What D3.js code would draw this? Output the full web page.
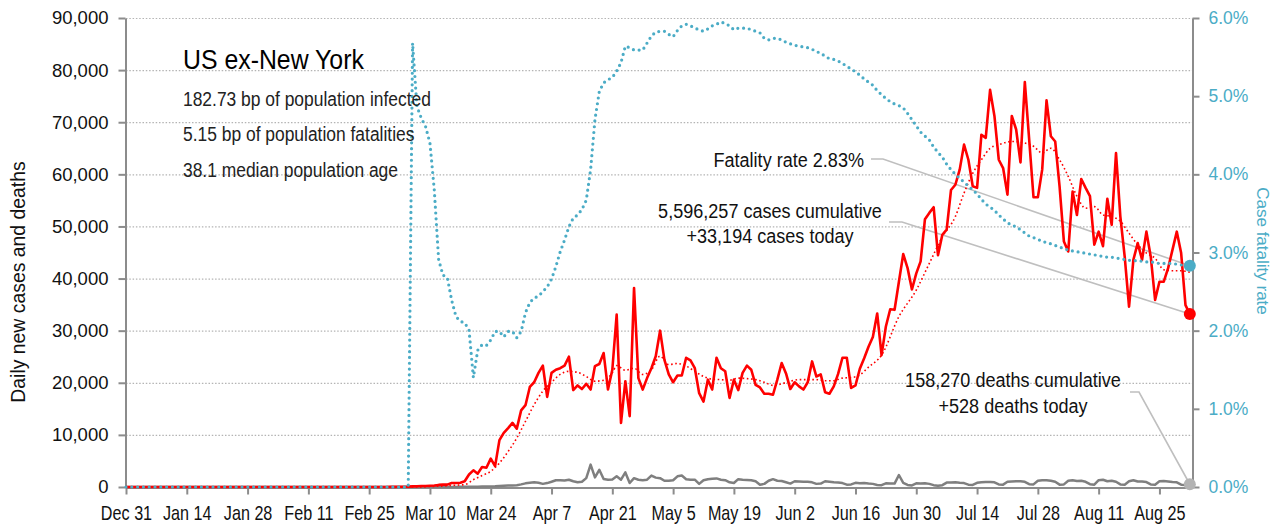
<!DOCTYPE html>
<html>
<head>
<meta charset="utf-8">
<script src="https://cdn.jsdelivr.net/npm/d3@7"></script>
<style>
  body { margin: 0; background: #fff; }
  svg { display: block; font-family: "Liberation Sans", Arial, sans-serif; }
</style>
</head>
<body>
<svg id="chart" width="1283" height="529"></svg>
<script>
// one value per day, starting Dec 31 2019
var startDate = "2019-12-31"

var dailyCases = [
  // Dec 31 + January
  0, 0,0,0,0,0,0,0,0,0,0, 0,0,0,0,0,0,0,0,0,0, 0,0,0,0,0,0,0,0,0,0,0,
  // February
  0,0,0,0,0,0,0,0,0,0, 0,0,0,0,0,0,0,0,0,0, 0,0,0,0,0,0,0,0,10,
  // March
  20,30,40,60,80,120,150,180,200,250, 300,400,450,450,770,770,830,1100,2400,3200,
  2560,3840,3700,5440,4000,9000,10400,11300,12300,11200,14700,
  // April
  15700,19200,20100,21900,23300,17300,21900,22500,22800,23300,
  25000,18600,19500,18800,19800,18700,23200,23600,25700,18700,
  22500,33100,12300,20300,13600,38200,20900,18700,20900,22800,
  // May
  25100,30000,24400,21600,20100,21400,21400,24800,24300,22800,
  18000,16400,20600,18700,24800,22800,22200,17100,20600,18600,
  21900,23300,22500,19600,19100,17900,17900,17700,20600,23800,21800,
  // June
  18800,20100,19300,18700,20100,24100,21200,21600,18200,17900,
  19300,21700,24800,24800,19000,19500,22700,24700,26900,28800,
  33300,25300,30800,34100,34000,39400,44700,42000,37900,41000,
  // July
  43300,51400,52600,53700,44500,48400,49400,57000,58000,60900,
  65700,62800,57700,57400,67600,67000,76200,71200,62800,61200,
  56100,71200,68600,62300,77700,66700,55600,55600,60900,74200,67300,
  // August
  66300,57700,47100,45200,56700,52200,59100,57400,55800,46500,
  49000,46200,55300,50300,64100,51900,44200,34600,43600,46800,
  43600,49000,44200,35900,39400,39400,42000,45500,49000,44900,34900,
  // Sep 1
  33194
]

var dailyDeaths = [
  0, 0,0,0,0,0,0,0,0,0,0, 0,0,0,0,0,0,0,0,0,0, 0,0,0,0,0,0,0,0,0,0,0,
  0,0,0,0,0,0,0,0,0,0, 0,0,0,0,0,0,0,0,0,0, 0,0,0,0,0,0,0,0,0,
  0,0,0,0,0,0,0,0,0,0, 0,0,0,0,10,20,25,30,40,50,
  60,80,100,120,150,200,250,300,300,350,500,
  700,800,900,800,600,750,1000,1300,1300,1250,
  1400,1100,900,1000,1700,4300,1850,3300,1540,1400,
  1450,2050,1400,2800,770,1700,1400,1300,1400,2200,
  1800,1700,1200,1200,1300,2050,2200,1500,1400,1400,
  600,1300,1500,1600,1650,1400,1300,900,770,1500,
  1400,1350,1300,1100,450,600,1200,1500,1200,1150,900,
  650,1100,1050,1000,1000,900,600,650,1100,1000,
  900,850,750,450,500,800,700,750,650,600,
  400,350,700,650,650,2300,800,400,300,700,
  650,700,600,350,250,350,850,850,900,800,
  750,450,400,800,900,950,950,900,500,450,
  1000,1050,1100,1100,1000,550,500,1200,1300,1300,1200,
  1000,450,500,1200,1300,1150,1200,1000,550,450,
  1300,1400,1100,1200,1000,500,450,1100,1300,1050,
  1050,950,500,450,1100,1150,1050,950,900,450,400,
  528
]

// case fatality rate, percent
var fatalityRate = [
  0, 0,0,0,0,0,0,0,0,0,0, 0,0,0,0,0,0,0,0,0,0, 0,0,0,0,0,0,0,0,0,0,0,
  0,0,0,0,0,0,0,0,0,0, 0,0,0,0,0,0,0,0,0,0, 0,0,0,0,0,0,0,0,0,
  0,0,0,0,0,5.68,4.87,4.72,4.61,4.40, 3.80,2.91,2.71,2.68,2.39,2.18,2.12,2.10,2.01,1.40,
  1.75,1.82,1.81,1.88,1.99,1.99,1.92,1.99,1.99,1.91,1.99,
  2.23,2.36,2.42,2.44,2.50,2.56,2.66,2.82,3.01,3.16,
  3.33,3.44,3.48,3.55,3.67,4.06,4.70,5.06,5.17,5.21,
  5.24,5.32,5.43,5.64,5.62,5.59,5.59,5.59,5.68,5.77,
  5.82,5.83,5.83,5.79,5.76,5.84,5.90,5.92,5.90,5.87,
  5.85,5.83,5.86,5.90,5.92,5.95,5.93,5.90,5.85,5.87,
  5.87,5.87,5.85,5.83,5.81,5.74,5.72,5.74,5.74,5.72,5.69,
  5.67,5.65,5.64,5.63,5.62,5.60,5.57,5.55,5.51,5.48,
  5.47,5.45,5.42,5.38,5.35,5.31,5.27,5.22,5.18,5.14,
  5.07,5.02,4.97,4.93,4.90,4.88,4.85,4.78,4.70,4.62,
  4.54,4.49,4.44,4.35,4.28,4.22,4.13,4.06,4.00,3.95,
  3.90,3.85,3.80,3.75,3.68,3.62,3.58,3.54,3.48,3.43,
  3.38,3.35,3.33,3.29,3.25,3.21,3.19,3.17,3.14,3.13,3.11,
  3.09,3.07,3.05,3.03,3.02,3.01,3.00,2.99,2.98,2.97,
  2.96,2.95,2.94,2.94,2.93,2.92,2.91,2.90,2.90,2.89,
  2.89,2.88,2.88,2.87,2.86,2.86,2.86,2.86,2.85,2.84,2.84,
  2.83
]

// smoothed cases trend
var trendDates = [
  "2019-12-31","2020-03-08","2020-03-10","2020-03-12","2020-03-14","2020-03-16","2020-03-18",
  "2020-03-20","2020-03-22","2020-03-24","2020-03-26","2020-03-28","2020-03-30","2020-04-01",
  "2020-04-03","2020-04-05","2020-04-07","2020-04-09","2020-04-11","2020-04-13","2020-04-15",
  "2020-04-17","2020-04-19","2020-04-21","2020-04-22","2020-04-24","2020-04-26","2020-04-28",
  "2020-04-30","2020-05-02","2020-05-04","2020-05-06","2020-05-08","2020-05-10","2020-05-12",
  "2020-05-14","2020-05-16","2020-05-18","2020-05-20","2020-05-22","2020-05-24","2020-05-26",
  "2020-05-28","2020-05-30","2020-06-01","2020-06-03","2020-06-05","2020-06-07","2020-06-09",
  "2020-06-11","2020-06-13","2020-06-15","2020-06-17","2020-06-19","2020-06-22","2020-06-26",
  "2020-06-30","2020-07-03","2020-07-06","2020-07-09","2020-07-11","2020-07-13","2020-07-15",
  "2020-07-17","2020-07-19","2020-07-22","2020-07-25","2020-07-27","2020-07-29","2020-07-31",
  "2020-08-02","2020-08-04","2020-08-06","2020-08-08","2020-08-10","2020-08-12","2020-08-14",
  "2020-08-16","2020-08-18","2020-08-20","2020-08-22","2020-08-24","2020-08-26","2020-08-28",
  "2020-08-30","2020-09-01"
]
var trendValues = [
  0, 0, 100, 150, 250, 350, 450,
  1400, 2200, 3000, 4600, 6800, 9400, 12600,
  15800, 18400, 20100, 21600, 22200, 22000, 21200,
  20300, 20500, 21900, 23300, 22400, 22800, 21600,
  22500, 25100, 23500, 23700, 23200, 22200, 21200,
  20700, 20600, 20500, 20900, 20800, 20600, 20100,
  19500, 19800, 20300, 20600, 20600, 20600, 20400,
  20400, 20900, 21000, 21500, 23000, 25300, 32700,
  37800, 42900, 48000, 51900, 56400, 60200, 62800,
  65000, 65700, 66300, 66000, 65400, 64100, 65000,
  62800, 59600, 55800, 53500, 53800, 52200, 51900,
  51000, 48700, 46500, 44900, 43900, 41700, 41500,
  41500, 41200
]

var xTickDates = ["2019-12-31","2020-01-14","2020-01-28","2020-02-11","2020-02-25","2020-03-10",
  "2020-03-24","2020-04-07","2020-04-21","2020-05-05","2020-05-19","2020-06-02","2020-06-16",
  "2020-06-30","2020-07-14","2020-07-28","2020-08-11","2020-08-25"]
var leftTicks = [0, 10000, 20000, 30000, 40000, 50000, 60000, 70000, 80000, 90000]
var rightTicks = [0, 1, 2, 3, 4, 5, 6]

var title = "US ex-New York"
var infoLines = ["182.73 bp of population infected", "5.15 bp of population fatalities", "38.1 median population age"]
var cfrLabel = "Fatality rate 2.83%"
var casesLabel = ["5,596,257 cases cumulative", "+33,194 cases today"]
var deathsLabel = ["158,270 deaths cumulative", "+528 deaths today"]

var red = "#ff0000", teal = "#4bacc6", gray = "#7f7f7f", axisGray = "#8c8c8c", leaderGray = "#bfbfbf"

var parse = d3.utcParse("%Y-%m-%d")
var day0 = parse(startDate)
function byDay(vals){ return vals.map(function(v, i){ return {date: d3.utcDay.offset(day0, i), value: v} }) }

var cases = byDay(dailyCases)
var deaths = byDay(dailyDeaths)
var cfr = byDay(fatalityRate)
var trend = trendDates.map(function(d, i){ return {date: parse(d), value: trendValues[i]} })

var svg = d3.select('#chart')
var plotLeft = 126, plotRight = 1192, plotTop = 18, plotBottom = 487

var x = d3.scaleUtc()
  .domain([day0, d3.utcHour.offset(cases[cases.length - 1].date, 12)])
  .range([plotLeft, plotRight])
var y = d3.scaleLinear().domain([0, 90000]).range([plotBottom, plotTop])
var yR = d3.scaleLinear().domain([0, 6]).range([plotBottom, plotTop])

// condensed look: squeeze text horizontally
function narrowLabel(parent, px, py, txt, size, squeeze, anchor, color){
  return parent.append('text')
    .attr('transform', 'translate(' + px + ',' + py + ') scale(' + squeeze + ',1)')
    .attr('text-anchor', anchor || 'start')
    .style('font-size', size + 'px')
    .attr('fill', color || '#111')
    .text(txt)
}

// gridlines
svg.append('g').selectAll('line')
  .data(leftTicks.filter(function(d){ return d > 0 }))
  .join('line')
  .attr('x1', plotLeft).attr('x2', plotRight)
  .attr('y1', function(d){ return y(d) + 0.5 }).attr('y2', function(d){ return y(d) + 0.5 })
  .attr('stroke', '#b4b4b4').attr('stroke-width', 1.2).attr('stroke-dasharray', '1.5,1.8')

// axes
function styleAxis(g, color, size){
  g.select('.domain').attr('stroke', axisGray).attr('stroke-width', 2)
  g.selectAll('.tick line').attr('stroke', axisGray).attr('stroke-width', 2)
  g.selectAll('.tick text').attr('fill', color).style('font-size', size + 'px')
    .style('font-family', '"Liberation Sans", Arial, sans-serif')
}

svg.append('g')
  .attr('transform', 'translate(' + (plotLeft - 0.5) + ',0)')
  .call(d3.axisLeft(y).tickValues(leftTicks).tickFormat(d3.format(',')).tickSize(7).tickSizeOuter(0).tickPadding(10))
  .call(styleAxis, '#111', 18.5)

svg.append('g')
  .attr('transform', 'translate(' + (plotRight + 0.5) + ',0)')
  .call(d3.axisRight(yR).tickValues(rightTicks).tickFormat(function(d){ return d.toFixed(1) + '%' }).tickSize(7).tickSizeOuter(0).tickPadding(9))
  .call(styleAxis, teal, 17.5)

var xAxisG = svg.append('g')
  .attr('transform', 'translate(0,' + (plotBottom + 0.5) + ')')
  .call(d3.axisBottom(x).tickValues(xTickDates.map(parse)).tickFormat(d3.utcFormat('%b %-d')).tickSize(7).tickSizeOuter(0).tickPadding(12))
  .call(styleAxis, '#111', 19.5)
xAxisG.selectAll('.tick text').attr('transform', 'scale(0.83,1)')

// axis titles
svg.append('text')
  .attr('transform', 'translate(25,282) rotate(-90)')
  .attr('text-anchor', 'middle').style('font-size', '19.4px').attr('fill', '#111')
  .text('Daily new cases and deaths')

svg.append('text')
  .attr('transform', 'translate(1257,251) rotate(90)')
  .attr('text-anchor', 'middle').style('font-size', '17px').attr('fill', teal)
  .text('Case fatality rate')

// leader lines (under the data)
var lastCase = cases[cases.length - 1], lastDeath = deaths[deaths.length - 1], lastCfr = cfr[cfr.length - 1]
var leader = d3.line()
function drawLeader(pts){
  svg.append('path').attr('d', leader(pts)).attr('fill', 'none')
    .attr('stroke', leaderGray).attr('stroke-width', 1.6)
}
drawLeader([[871, 159], [883, 159], [x(lastCfr.date), yR(lastCfr.value)]])
drawLeader([[889, 222], [902, 222], [x(lastCase.date), y(lastCase.value)]])
drawLeader([[1130, 392], [1139, 392], [x(lastDeath.date), y(lastDeath.value)]])

// series
var lineL = d3.line().x(function(d){ return x(d.date) }).y(function(d){ return y(d.value) })
var trendLine = d3.line().x(function(d){ return x(d.date) }).y(function(d){ return y(d.value) }).curve(d3.curveMonotoneX)
var lineR = d3.line().x(function(d){ return x(d.date) }).y(function(d){ return yR(d.value) })

svg.append('path').datum(deaths).attr('d', lineL).attr('fill', 'none')
  .attr('stroke', gray).attr('stroke-width', 2.5).attr('stroke-linejoin', 'round')

svg.append('path').datum(trend).attr('d', trendLine).attr('fill', 'none')
  .attr('stroke', red).attr('stroke-width', 1.6).attr('stroke-dasharray', '1.6,2.6')

svg.append('path').datum(cases).attr('d', lineL).attr('fill', 'none')
  .attr('stroke', red).attr('stroke-width', 2.6).attr('stroke-linejoin', 'round')

svg.append('path').datum(cfr).attr('d', lineR).attr('fill', 'none')
  .attr('stroke', teal).attr('stroke-width', 3.2).attr('stroke-linecap', 'round')
  .attr('stroke-dasharray', '0,5.8')

// end markers
svg.append('circle').attr('cx', x(lastDeath.date)).attr('cy', y(lastDeath.value)).attr('r', 6).attr('fill', '#b3b3b3')
svg.append('circle').attr('cx', x(lastCase.date)).attr('cy', y(lastCase.value)).attr('r', 6).attr('fill', red)
svg.append('circle').attr('cx', x(lastCfr.date)).attr('cy', yR(lastCfr.value)).attr('r', 6).attr('fill', teal)

// title block
narrowLabel(svg, 183, 69, title, 27, 0.92, 'start', '#000')
infoLines.forEach(function(t, i){ narrowLabel(svg, 183, 106 + i * 35.3, t, 21, 0.83, 'start', '#222') })

// annotations
narrowLabel(svg, 864, 166.5, cfrLabel, 21, 0.86, 'end')
casesLabel.forEach(function(t, i){ narrowLabel(svg, 770, 217.5 + i * 25.5, t, 21, 0.86, 'middle') })
deathsLabel.forEach(function(t, i){ narrowLabel(svg, 1013, 387 + i * 26, t, 21, 0.86, 'middle') })
</script>
</body>
</html>
